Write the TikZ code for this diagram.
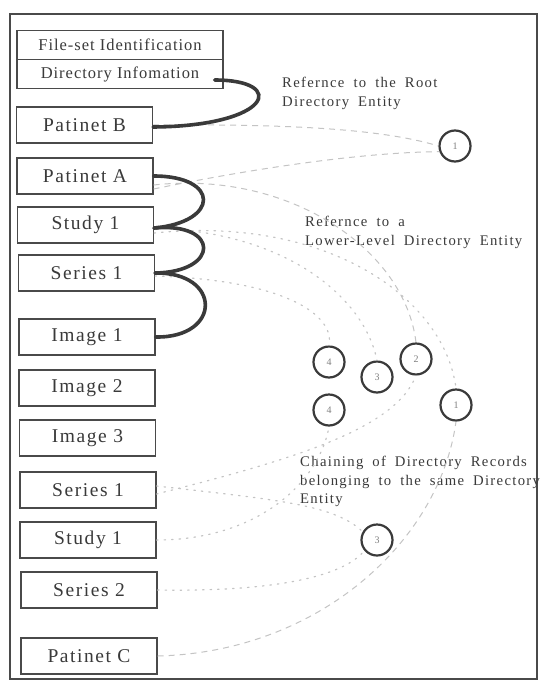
\documentclass[tikz,border=0pt]{standalone}
\usepackage{fontspec}
\setmainfont{Liberation Serif}
\newfontfamily\boxfont[LetterSpace=8]{Liberation Serif}
\newfontfamily\hdrfont[LetterSpace=6]{Liberation Serif}
\newfontfamily\notefont[LetterSpace=9,WordSpace=1.8]{Liberation Serif}
\definecolor{ink}{HTML}{3A3A3A}
\definecolor{edge}{HTML}{4A4A4A}
\definecolor{faint}{HTML}{C4C4C4}
\tikzset{
  rec/.style={draw=edge, line width=1.2pt, minimum width=136pt, minimum height=36pt,
    inner sep=0pt, text=ink, font=\boxfont\fontsize{19.5}{21}\selectfont},
  hdr/.style={draw=edge, line width=1.2pt, minimum width=206pt, minimum height=29pt,
    inner sep=0pt, text=ink, font=\hdrfont\fontsize{16.5}{18}\selectfont},
  circ/.style={circle, draw=ink, line width=2.2pt, minimum size=31pt, inner sep=0pt,
    text=gray, font=\fontsize{10}{11}\selectfont},
  note/.style={anchor=north west, align=left, inner sep=0pt, text=ink,
    font=\notefont\fontsize{14.7}{18.5}\selectfont},
  link/.style={draw=ink, line width=3.6pt, line cap=round},
  refline/.style={draw=faint, line width=1pt, dash pattern=on 6pt off 5pt},
  chainline/.style={draw=faint, line width=1.2pt, dash pattern=on 1.5pt off 6pt, line cap=round}
}
\begin{document}
\begin{tikzpicture}[x=1pt,y=-1pt]
  \useasboundingbox (0,0) rectangle (544,683);
  \fill[white] (0,0) rectangle (544,683);
  % outer frame
  \draw[edge, line width=1.2pt] (10,14) rectangle (537,679);

  % file-set header
  \node[hdr] (fsid)  at (120,45) {File-set Identification};
  \node[hdr] (dinfo) at (120,74) {Directory Infomation};

  % directory records
  \node[rec] (patb)  at (84.5,125) {Patinet B};
  \node[rec] (pata)  at (85,176)   {Patinet A};
  \node[rec] (stda)  at (85.5,225) {Study 1};
  \node[rec] (sera)  at (86.5,273) {Series 1};
  \node[rec] (imga)  at (87,337)   {Image 1};
  \node[rec] (imgb)  at (87,388)   {Image 2};
  \node[rec] (imgc)  at (87.5,438) {Image 3};
  \node[rec] (serb)  at (88,490)   {Series 1};
  \node[rec] (stdb)  at (88,540)   {Study 1};
  \node[rec] (serc)  at (89,590)   {Series 2};
  \node[rec] (patc)  at (89,656)   {Patinet C};

  % directory entity markers
  \node[circ] (ra)  at (455,146) {1};
  \node[circ] (ud)  at (329,362) {4};
  \node[circ] (uc)  at (377,377) {3};
  \node[circ] (ub)  at (416,359) {2};
  \node[circ] (rb)  at (456,405) {1};
  \node[circ] (ld)  at (329,410) {4};
  \node[circ] (lc)  at (377,540) {3};

  % annotations
  \node[note] (n1) at (282,77)  {Refernce to the Root\\Directory Entity};
  \node[note] (n2) at (305,216) {Refernce to a\\Lower-Level Directory Entity};
  \node[note] (n3) at (300,456) {Chaining of Directory Records\\belonging to the same Directory\\Entity};

  % references to the root directory entity
  \draw[refline] (patb.east) .. controls (280,124) and (380,128) .. (ra.west);
  \draw[refline] ([yshift=-13pt]pata.east) .. controls (280,163) and (380,152) .. (ra.200);
  % references to lower-level directory entities
  \draw[refline] ([yshift=-9pt]pata.east) .. controls (290,170) and (405,250) .. (ub.north);
  \draw[chainline] ([yshift=-8pt]stda.east) .. controls (330,215) and (445,300) .. (rb.north);
  \draw[chainline] ([yshift=-3pt]stda.east) .. controls (290,232) and (365,300) .. (uc.north);
  \draw[chainline] ([yshift=-3pt]sera.east) .. controls (285,280) and (335,315) .. (ud.north);
  % chaining of records within one directory entity
  \draw[chainline] ([yshift=-4pt]serb.east) .. controls (290,460) and (395,430) .. (ub.south);
  \draw[chainline] ([yshift=4pt]serb.east) .. controls (280,500) and (335,505) .. (lc.150);
  \draw[chainline] (stdb.east) .. controls (260,540) and (320,480) .. (ld.south);
  \draw[chainline] (serc.east) .. controls (280,592) and (345,575) .. (lc.220);
  \draw[refline] (patc.east) .. controls (320,652) and (440,540) .. (rb.south);

  % links from each record to its first lower-level record
  \draw[link] ([xshift=-9pt,yshift=-6pt]dinfo.east) .. controls (288,80) and (272,126) .. ([yshift=-2pt]patb.east);
  \draw[link] (pata.east) .. controls (220,176) and (220,222) .. ([yshift=-3pt]stda.east);
  \draw[link] ([yshift=-3pt]stda.east) .. controls (220,222) and (220,272) .. (sera.east);
  \draw[link] (sera.east) .. controls (222,272) and (222,338) .. (imga.east);
\end{tikzpicture}
\end{document}
